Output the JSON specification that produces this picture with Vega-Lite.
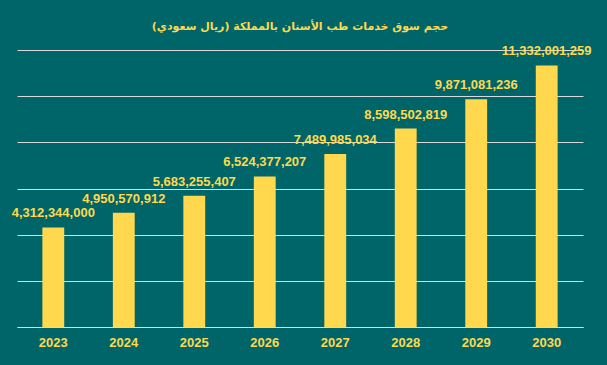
{
  "$schema": "https://vega.github.io/schema/vega-lite/v6.json",
  "width": 566,
  "height": 277,
  "autosize": {"type": "none"},
  "padding": {"left": 17, "top": 50, "right": 24, "bottom": 38},
  "background": "#006569",
  "title": {
    "text": "حجم سوق خدمات طب الأسنان بالمملكة (ريال سعودي)",
    "color": "#FFD84D",
    "font": "DejaVu Sans",
    "fontSize": 11,
    "fontWeight": "bold",
    "offset": 13,
    "anchor": "middle",
    "frame": "group"
  },
  "config": {
    "view": {"stroke": null},
    "axis": {"labelFont": "Liberation Sans", "titleFont": "Liberation Sans"}
  },
  "data": {
    "values": [
      {"year": "2023", "value": 4312344000},
      {"year": "2024", "value": 4950570912},
      {"year": "2025", "value": 5683255407},
      {"year": "2026", "value": 6524377207},
      {"year": "2027", "value": 7489985034},
      {"year": "2028", "value": 8598502819},
      {"year": "2029", "value": 9871081236},
      {"year": "2030", "value": 11332001259}
    ]
  },
  "encoding": {
    "x": {
      "field": "year",
      "type": "ordinal",
      "scale": {"paddingInner": 0.69, "paddingOuter": 0.36},
      "axis": {
        "title": null,
        "labelAngle": 0,
        "labelColor": "#FFD84D",
        "labelFontSize": 13,
        "labelFontWeight": "bold",
        "labelPadding": 9,
        "ticks": false,
        "domainColor": "#d9d9d9",
        "domainWidth": 1
      }
    },
    "y": {
      "field": "value",
      "type": "quantitative",
      "scale": {"domain": [0, 12000000000], "nice": false},
      "axis": {
        "title": null,
        "labels": false,
        "ticks": false,
        "domain": false,
        "values": [0, 2000000000, 4000000000, 6000000000, 8000000000, 10000000000, 12000000000],
        "gridColor": "#d9d9d9",
        "gridWidth": 1,
        "gridOpacity": 1
      }
    }
  },
  "layer": [
    {"mark": {"type": "bar", "color": "#FFD84D"}},
    {
      "mark": {
        "type": "text",
        "baseline": "bottom",
        "dy": -7,
        "font": "Liberation Sans",
        "fontSize": 13,
        "fontWeight": "bold",
        "color": "#FFD84D"
      },
      "encoding": {"text": {"field": "value", "type": "quantitative", "format": ",d"}}
    }
  ]
}
